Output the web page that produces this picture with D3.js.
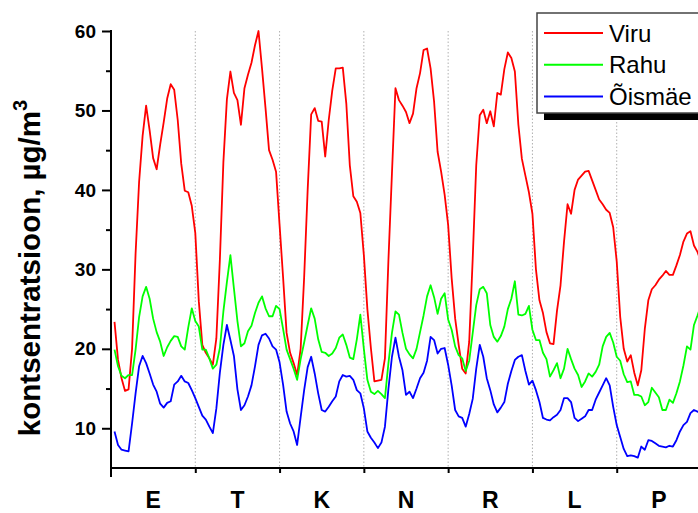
<!DOCTYPE html>
<html>
<head>
<meta charset="utf-8">
<script src="https://cdn.jsdelivr.net/npm/d3@7"></script>
<style>
  body { margin: 0; background: #fff; }
  svg { display: block; }
</style>
</head>
<body>
<div id="chart-container"></div>
<script>
// Weekday labels (Estonian initials) - each day holds 24 hourly values
const days = ["E", "T", "K", "N", "R", "L", "P"];
const seriesNames = ["Viru", "Rahu", "Õismäe"];
const seriesColors = ["#ff0000", "#00ff00", "#0000ff"];
const yTicks = [10, 20, 30, 40, 50, 60];
const yMinorTicks = [15, 25, 35, 45, 55];

// hourly concentrations, one row per day
const viru = [
  23.4, 18.6, 16.3, 14.7, 14.9, 20.0, 32.0, 41.0, 46.8, 50.6, 47.5, 44.0, 42.6, 45.7, 48.5, 51.5, 53.3, 52.6, 48.8, 43.3, 39.9, 39.7, 38.0, 34.6,
  26.0, 20.5, 19.5, 18.8, 18.0, 21.3, 31.2, 43.5, 51.4, 54.9, 52.2, 51.3, 48.2, 52.8, 54.5, 56.0, 58.2, 60.0, 55.3, 50.3, 45.0, 43.8, 42.3, 35.6,
  29.0, 22.0, 19.5, 18.2, 16.7, 20.0, 29.0, 40.0, 49.5, 50.3, 48.7, 48.6, 44.2, 48.8, 52.5, 55.3, 55.3, 55.4, 50.9, 43.1, 39.2, 38.5, 37.1, 31.8,
  25.0, 20.1, 15.9, 16.0, 16.1, 18.8, 31.2, 42.1, 52.8, 51.3, 50.6, 49.8, 48.4, 49.6, 52.8, 54.7, 57.6, 57.8, 55.3, 51.1, 44.8, 42.3, 39.4, 35.6,
  28.9, 23.8, 20.5, 17.5, 16.9, 20.9, 31.4, 43.1, 49.4, 50.1, 48.4, 49.9, 48.0, 52.2, 52.0, 55.2, 57.3, 56.6, 54.9, 48.2, 43.9, 41.8, 39.7, 37.0,
  30.0, 26.1, 24.5, 22.1, 20.7, 20.6, 24.8, 28.0, 33.5, 38.2, 37.0, 40.0, 41.3, 41.8, 42.3, 42.4, 41.2, 40.0, 38.8, 38.2, 37.5, 37.1, 35.3, 31.0,
  24.0, 20.0, 18.4, 19.2, 17.0, 15.4, 17.3, 22.5, 26.1, 27.5, 28.0, 28.7, 29.2, 29.8, 29.3, 29.3, 30.5, 31.8, 33.5, 34.5, 34.8, 33.0, 32.2, 31.0
];

const rahu = [
  19.9, 17.8, 16.6, 16.3, 16.7, 16.7, 19.9, 24.0, 26.6, 27.8, 26.3, 23.8, 22.1, 20.9, 19.1, 20.2, 21.0, 21.6, 21.5, 20.3, 19.9, 22.7, 25.1, 23.5,
  22.8, 19.9, 19.9, 18.8, 17.5, 18.0, 20.1, 24.7, 28.4, 31.8, 27.6, 23.5, 20.3, 20.7, 22.2, 22.9, 24.5, 25.8, 26.6, 25.1, 24.1, 24.1, 25.4, 25.0,
  22.5, 19.9, 18.7, 17.5, 16.1, 18.7, 20.8, 23.0, 25.1, 23.8, 21.2, 19.6, 19.5, 19.1, 19.4, 20.1, 21.4, 21.8, 20.5, 18.9, 18.7, 21.2, 24.3, 20.0,
  16.1, 14.6, 14.3, 14.7, 14.3, 13.8, 18.2, 22.0, 24.7, 24.3, 22.0, 20.0, 19.3, 18.8, 20.0, 22.1, 24.2, 26.6, 28.0, 26.5, 24.4, 26.3, 27.0, 23.7,
  22.4, 20.3, 19.2, 18.8, 17.2, 18.5, 22.0, 25.5, 27.5, 27.8, 27.0, 23.0, 21.5, 20.9, 21.6, 22.8, 25.0, 26.3, 28.5, 24.3, 24.2, 24.4, 25.4, 22.4,
  21.1, 21.1, 19.5, 18.7, 16.5, 17.3, 18.2, 16.3, 17.5, 20.0, 18.7, 17.5, 16.7, 15.2, 15.9, 16.9, 16.5, 17.1, 18.0, 20.3, 21.5, 22.0, 20.8, 19.0,
  18.5, 16.8, 15.8, 15.9, 14.2, 14.2, 14.0, 12.9, 13.3, 15.1, 14.5, 13.9, 12.3, 12.3, 13.6, 13.2, 14.4, 15.9, 17.9, 20.3, 19.9, 23.0, 24.2, 25.5
];

const oismae = [
  9.6, 7.9, 7.3, 7.2, 7.1, 10.6, 14.4, 17.8, 19.1, 18.2, 16.9, 15.5, 14.6, 13.1, 12.6, 13.2, 13.4, 15.5, 15.9, 16.6, 15.9, 15.7, 14.8, 13.8,
  12.7, 11.6, 11.1, 10.2, 9.4, 12.5, 17.0, 20.5, 23.0, 21.1, 19.1, 14.9, 12.3, 12.9, 14.0, 15.4, 17.8, 20.5, 21.7, 21.9, 21.3, 20.3, 19.9, 18.3,
  15.5, 12.1, 10.6, 9.6, 7.9, 11.4, 14.8, 17.7, 19.0, 16.9, 14.4, 12.3, 12.1, 12.7, 13.4, 14.0, 15.9, 16.7, 16.5, 16.6, 16.1, 14.8, 14.4, 12.5,
  9.6, 8.8, 8.2, 7.5, 8.2, 10.2, 15.0, 19.0, 21.4, 19.0, 17.3, 14.2, 14.6, 13.8, 15.0, 16.3, 17.0, 18.5, 21.5, 21.1, 19.4, 20.0, 20.1, 18.0,
  15.4, 12.3, 11.5, 11.3, 10.2, 11.8, 13.7, 17.5, 20.5, 19.0, 16.3, 14.8, 13.0, 12.0, 12.6, 13.3, 15.6, 17.2, 18.6, 19.0, 19.2, 17.2, 15.5, 16.0,
  14.8, 13.3, 11.3, 11.1, 11.0, 11.4, 11.7, 12.3, 13.8, 13.8, 13.3, 11.3, 10.9, 11.2, 11.5, 12.3, 12.3, 13.6, 14.5, 15.4, 16.3, 15.4, 12.7, 10.4,
  8.9, 7.4, 6.5, 6.6, 6.5, 6.3, 7.7, 7.3, 8.5, 8.4, 8.1, 7.8, 7.7, 7.6, 7.8, 7.7, 8.5, 9.6, 10.4, 10.8, 11.9, 12.3, 12.1, 11.8
];

const allSeries = [viru, rahu, oismae];

const width = 698;
const height = 513;
const font = "'Liberation Sans', Arial, sans-serif";

const svg = d3.select("#chart-container")
  .append("svg")
  .attr("width", width)
  .attr("height", height)
  .style("font-family", font);

svg.append("rect").attr("width", width).attr("height", height).attr("fill", "#fff");

// plot frame: hours 0..168 on x, 5..60 on y
const x = d3.scaleLinear().domain([0, days.length * 24]).range([111, 701]);
const y = d3.scaleLinear().domain([5, 60]).range([468, 31]);

const dayBounds = d3.range(1, days.length).map(d => d * 24);

// dotted separators between days
svg.append("g")
  .selectAll("line")
  .data(dayBounds)
  .join("line")
  .attr("x1", d => x(d)).attr("x2", d => x(d))
  .attr("y1", y(60)).attr("y2", y(5))
  .attr("stroke", "#b0b0b0")
  .attr("stroke-width", 1)
  .attr("stroke-dasharray", "1.5,2");

// series lines
const line = d3.line()
  .x((d, i) => x(i + 1))
  .y(d => y(d));

svg.append("g")
  .selectAll("path")
  .data(allSeries)
  .join("path")
  .attr("fill", "none")
  .attr("stroke", (d, i) => seriesColors[i])
  .attr("stroke-width", 1.8)
  .attr("stroke-linejoin", "round")
  .attr("d", line);

// y axis with major + minor ticks
const yAxis = svg.append("g")
  .attr("transform", `translate(${x(0)},0)`)
  .call(d3.axisLeft(y).tickValues(yTicks).tickSize(9).tickPadding(6));

svg.append("g")
  .attr("transform", `translate(${x(0)},0)`)
  .call(d3.axisLeft(y).tickValues(yMinorTicks).tickSize(5).tickFormat(""))
  .call(g => g.select(".domain").remove());

yAxis.select(".domain").remove();
yAxis.selectAll("text")
  .attr("font-family", font)
  .attr("font-weight", "bold")
  .attr("font-size", 19)
  .attr("fill", "#000");

// x axis, ticks only at day boundaries
const xAxis = svg.append("g")
  .attr("transform", `translate(0,${y(5)})`)
  .call(d3.axisBottom(x).tickValues(dayBounds).tickSize(5).tickFormat(""));
xAxis.select(".domain").remove();

svg.selectAll(".tick line").attr("stroke", "#000").attr("stroke-width", 2);

// axis lines drawn by hand so the corner matches
svg.append("line")
  .attr("x1", x(0)).attr("x2", x(0))
  .attr("y1", y(60) - 1).attr("y2", y(5) + 9)
  .attr("stroke", "#000").attr("stroke-width", 2);
svg.append("line")
  .attr("x1", x(0)).attr("x2", width)
  .attr("y1", y(5)).attr("y2", y(5))
  .attr("stroke", "#000").attr("stroke-width", 2);

// day labels centred in each day
svg.append("g")
  .selectAll("text")
  .data(days)
  .join("text")
  .attr("x", (d, i) => x(i * 24 + 12))
  .attr("y", 508)
  .attr("text-anchor", "middle")
  .attr("font-weight", "bold")
  .attr("font-size", 23)
  .text(d => d);

// y title
const yTitle = svg.append("text")
  .attr("transform", "translate(40,268) rotate(-90)")
  .attr("text-anchor", "middle")
  .attr("font-weight", "bold")
  .attr("font-size", 29.5);
yTitle.append("tspan").text("kontsentratsioon, µg/m");
yTitle.append("tspan").attr("font-size", 20).attr("dy", -13).text("3");

// legend with drop shadow
const legend = svg.append("g").attr("transform", "translate(537,13)");
legend.append("rect")
  .attr("x", 7).attr("y", 7)
  .attr("width", 175).attr("height", 100)
  .attr("fill", "#000");
legend.append("rect")
  .attr("width", 175).attr("height", 100)
  .attr("fill", "#fff")
  .attr("stroke", "#444")
  .attr("stroke-width", 1.5);

const entries = legend.selectAll("g")
  .data(seriesNames)
  .join("g")
  .attr("transform", (d, i) => `translate(0,${20 + i * 31.7})`);

entries.append("line")
  .attr("x1", 7).attr("x2", 66)
  .attr("stroke", (d, i) => seriesColors[i])
  .attr("stroke-width", 2);

entries.append("text")
  .attr("x", 72)
  .attr("y", 8.5)
  .attr("font-size", 24)
  .text(d => d);
</script>
</body>
</html>
